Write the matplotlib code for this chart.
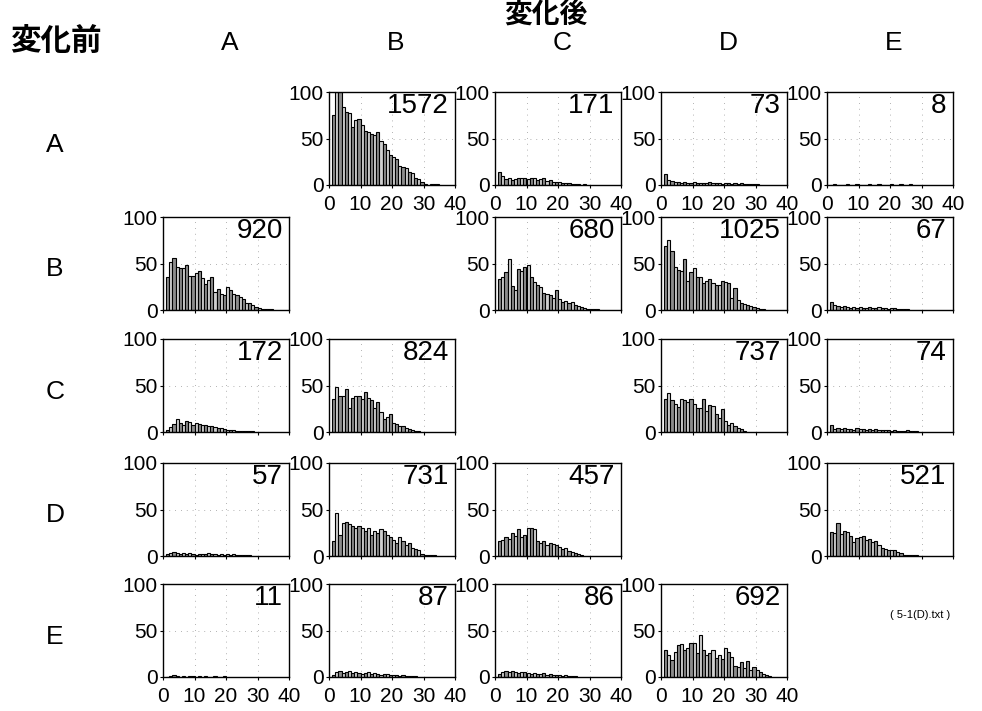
import matplotlib
matplotlib.use("Agg")
import matplotlib.pyplot as plt

plt.rcParams['font.family'] = ['Liberation Sans', 'Noto Sans CJK JP', 'DejaVu Sans']

states = ["A", "B", "C", "D", "E"]

# Histograms of transitions (before -> after), one bin per unit starting at 1
a_to_b = [75, 100, 100, 84, 79, 77, 62, 70, 71, 65, 58, 57, 55, 54, 57, 47, 44, 38,
          32, 30, 28, 20, 19, 18, 14, 13, 8, 6, 3, 1, 0, 1, 1, 1]
a_to_c = [14, 10, 6, 8, 5, 6, 7, 8, 7, 6, 8, 7, 5, 6, 7, 4, 5, 3, 3, 3, 2, 2, 2,
          1, 1, 1, 0, 1]
a_to_d = [12, 5, 4, 3, 3, 2, 3, 2, 2, 3, 2, 2, 2, 2, 3, 2, 2, 2, 1, 2, 2, 1, 2, 1,
          2, 1, 1, 1, 1, 1]
a_to_e = [0, 1, 0, 0, 0, 1, 0, 0, 1, 0, 0, 0, 1, 0, 0, 1, 0, 0, 0, 1, 0, 0, 1, 0,
          0, 1]

b_to_a = [36, 52, 56, 46, 45, 45, 48, 37, 37, 40, 42, 34, 28, 32, 35, 19, 23, 17,
          16, 25, 21, 17, 16, 14, 12, 8, 7, 5, 3, 2, 1, 1, 1, 1]
b_to_c = [33, 35, 41, 55, 26, 21, 44, 42, 46, 48, 35, 30, 27, 25, 18, 17, 16, 13,
          22, 12, 9, 10, 7, 9, 5, 4, 3, 2, 1, 1, 1, 1]
b_to_d = [69, 75, 63, 46, 43, 42, 55, 31, 41, 45, 36, 35, 29, 31, 33, 29, 27, 27,
          31, 30, 29, 13, 24, 11, 7, 6, 5, 4, 3, 2, 1, 1]
b_to_e = [9, 5, 4, 3, 4, 3, 2, 3, 2, 3, 2, 2, 3, 2, 2, 3, 2, 2, 1, 2, 2, 1, 1, 1, 1]

c_to_a = [2, 5, 9, 14, 10, 7, 12, 11, 8, 10, 9, 7, 8, 6, 6, 5, 4, 4, 3, 2, 2, 2,
          1, 1, 1, 1, 1, 1]
c_to_b = [35, 48, 39, 39, 46, 26, 37, 39, 39, 35, 43, 37, 34, 26, 32, 21, 14, 16,
          19, 10, 9, 6, 6, 4, 3, 2, 1, 1]
c_to_d = [36, 42, 34, 30, 27, 35, 34, 32, 35, 30, 26, 26, 36, 23, 29, 28, 19, 15,
          25, 12, 8, 10, 6, 4, 3, 1]
c_to_e = [8, 3, 4, 3, 4, 3, 3, 2, 4, 3, 3, 2, 3, 2, 3, 2, 2, 2, 2, 1, 2, 1, 1, 1,
          2, 1, 1, 1]

d_to_a = [2, 3, 4, 3, 2, 3, 2, 3, 2, 1, 2, 2, 2, 3, 2, 2, 1, 2, 1, 2, 1, 2, 1, 1,
          1, 1, 1]
d_to_b = [16, 46, 23, 36, 37, 34, 32, 30, 32, 30, 27, 30, 23, 27, 25, 29, 27, 23,
          20, 17, 14, 20, 16, 12, 14, 9, 8, 6, 2, 1, 1, 1, 1]
d_to_c = [16, 17, 20, 18, 25, 21, 29, 20, 23, 30, 30, 29, 16, 14, 16, 12, 14, 13,
          12, 10, 8, 9, 5, 4, 3, 2, 1]
d_to_e = [26, 25, 35, 24, 27, 26, 22, 15, 19, 20, 21, 17, 18, 15, 16, 12, 9, 7,
          6, 6, 6, 4, 3, 1, 1, 1, 1, 1]

e_to_a = [0, 1, 2, 1, 0, 1, 0, 1, 1, 0, 1, 0, 1, 0, 0, 1, 0, 0, 1]
e_to_b = [2, 5, 6, 4, 5, 6, 4, 5, 4, 3, 4, 5, 3, 4, 3, 2, 3, 3, 2, 2, 2, 1, 2, 1,
          1, 1, 1]
e_to_c = [3, 5, 6, 5, 6, 5, 4, 5, 5, 4, 3, 4, 3, 3, 4, 2, 3, 2, 2, 2, 1, 2, 1, 1, 1]
e_to_d = [29, 24, 18, 27, 34, 35, 29, 31, 37, 37, 26, 45, 29, 24, 26, 29, 20, 24,
          19, 31, 27, 22, 12, 11, 16, 10, 17, 7, 11, 8, 5, 3, 2, 1]

# Total transitions printed in each panel
totals = {
    ("A", "B"): 1572, ("A", "C"): 171, ("A", "D"): 73, ("A", "E"): 8,
    ("B", "A"): 920, ("B", "C"): 680, ("B", "D"): 1025, ("B", "E"): 67,
    ("C", "A"): 172, ("C", "B"): 824, ("C", "D"): 737, ("C", "E"): 74,
    ("D", "A"): 57, ("D", "B"): 731, ("D", "C"): 457, ("D", "E"): 521,
    ("E", "A"): 11, ("E", "B"): 87, ("E", "C"): 86, ("E", "D"): 692,
}

hist = {
    ("A", "B"): a_to_b, ("A", "C"): a_to_c, ("A", "D"): a_to_d, ("A", "E"): a_to_e,
    ("B", "A"): b_to_a, ("B", "C"): b_to_c, ("B", "D"): b_to_d, ("B", "E"): b_to_e,
    ("C", "A"): c_to_a, ("C", "B"): c_to_b, ("C", "D"): c_to_d, ("C", "E"): c_to_e,
    ("D", "A"): d_to_a, ("D", "B"): d_to_b, ("D", "C"): d_to_c, ("D", "E"): d_to_e,
    ("E", "A"): e_to_a, ("E", "B"): e_to_b, ("E", "C"): e_to_c, ("E", "D"): e_to_d,
}

W, H = 982, 711
fig = plt.figure(figsize=(W / 100, H / 100), dpi=100)

col_left = [163, 329, 495, 661, 827]
row_top = [92, 217, 339, 463, 584]
ax_w, ax_h = 126, 93

for r, before in enumerate(states):
    for c, after in enumerate(states):
        if before == after:
            continue
        x0 = col_left[c] / W
        y0 = 1 - (row_top[r] + ax_h) / H
        ax = fig.add_axes([x0, y0, ax_w / W, ax_h / H])
        vals = hist[(before, after)]
        xs = [1 + i for i in range(len(vals))]
        colors = ['#8c8c8c' if i % 2 == 0 else '#cfcfcf' for i in range(len(vals))]
        ax.bar(xs, vals, width=1.0, align='edge', color=colors,
               edgecolor='black', linewidth=0.8, zorder=2)
        ax.set_xlim(0, 40)
        ax.set_ylim(0, 100)
        ax.set_yticks([0, 50, 100])
        ax.set_xticks([0, 10, 20, 30, 40])
        ax.grid(True, color='#999999', linestyle=(0, (1, 6)), linewidth=0.6, zorder=1)
        ax.tick_params(axis='both', labelsize=15, length=2, width=0.8, pad=2)
        ax.tick_params(axis='x', pad=5)
        show_x = (r == 0) or (r == 4)
        if not show_x:
            ax.tick_params(axis='x', labelbottom=False)
        for s in ax.spines.values():
            s.set_linewidth(1.0)
        ax.text(0.95, 0.99, str(totals[(before, after)]), transform=ax.transAxes,
                ha='right', va='top', fontsize=20)

# Column headers (state after) and row headers (state before)
for c, name in enumerate(states):
    fig.text((col_left[c] + ax_w / 2 + 4) / W, 1 - 43 / H, name,
             ha='center', va='center', fontsize=19)
for r, name in enumerate(states):
    fig.text(55 / W, 1 - (row_top[r] + ax_h / 2 + 6) / H, name,
             ha='center', va='center', fontsize=19)

fig.text(546 / W, 1 - 15 / H, "変化後", ha='center', va='center',
         fontsize=20, fontweight='bold')
fig.text(56 / W, 1 - 43 / H, "変化前", ha='center', va='center',
         fontsize=22, fontweight='bold')
fig.text(920 / W, 1 - 615 / H, "( 5-1(D).txt )", ha='center', va='center',
         fontsize=8)

fig.savefig("out.png", dpi=100)
